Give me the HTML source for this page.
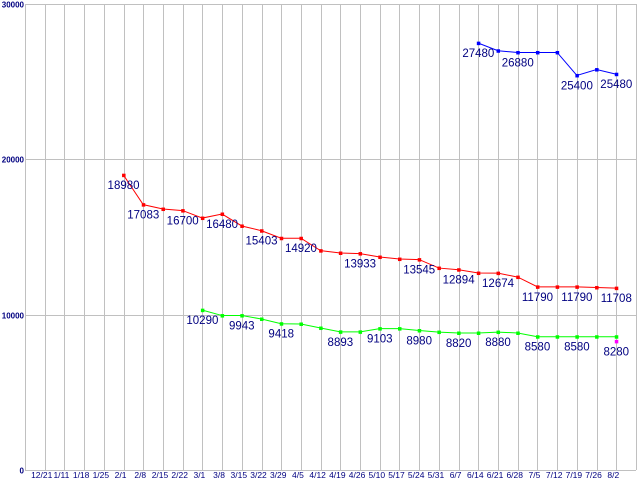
<!DOCTYPE html>
<html><head><meta charset="utf-8"><style>
html,body{margin:0;padding:0;background:#fff;width:640px;height:480px;overflow:hidden}
svg{display:block}
text{font-family:"Liberation Sans",sans-serif}
</style></head><body>
<svg id="chart" width="640" height="480" xmlns="http://www.w3.org/2000/svg"></svg>
<script>
const categories=["12/21","1/11","1/18","1/25","2/1","2/8","2/15","2/22","3/1","3/8","3/15","3/22","3/29","4/5","4/12","4/19","4/26","5/10","5/17","5/24","5/31","6/7","6/14","6/21","6/28","7/5","7/12","7/19","7/26","8/2"];
const yTicks=[0,10000,20000,30000];
const blueStart=22;
const blueValues=[27480,26990,26880,26880,26880,25400,25780,25480];
const blueLabelIdx=[22,24,27,29];
const redStart=4;
const redValues=[18980,17083,16800,16700,16220,16480,15710,15403,14920,14920,14120,13970,13933,13710,13580,13545,13000,12894,12680,12674,12420,11790,11790,11790,11750,11708];
const redLabelIdx=[4,5,7,9,11,13,16,19,21,23,25,27,29];
const greenStart=8;
const greenValues=[10290,9943,9943,9720,9418,9400,9140,8893,8893,9103,9103,8980,8880,8820,8820,8880,8820,8580,8580,8580,8580,8580];
const greenLabelIdx=[8,10,12,15,17,19,21,23,25,27];
const magentaStart=29;
const magentaValues=[8280];
const magentaLabelIdx=[29];

const NS="http://www.w3.org/2000/svg";
const svg=document.getElementById('chart');
const L=25,R=636,T=4,B=470,YMAX=30000;
const step=(R-L)/(categories.length+1);
const xPos=i=>L+step*(i+1);
const yPos=v=>B-(v/YMAX)*(B-T);
function mk(tag,attrs){const e=document.createElementNS(NS,tag);for(const k in attrs)e.setAttribute(k,attrs[k]);svg.appendChild(e);return e;}

for(let k=0;k<=categories.length+1;k++){
  const x=Math.round(L+step*k)+0.5;
  const g=mk('line',{x1:x,x2:x,y1:T,y2:B,stroke:'#c0c0c0','stroke-width':1});
  
  
}
yTicks.forEach(v=>{
  const y=Math.round(yPos(v))+0.5;
  const g=mk('line',{x1:L,x2:R,y1:y,y2:y,stroke:'#c0c0c0','stroke-width':1});
  
  
  const t=mk('text',{x:24,y:y+3,'text-anchor':'end','font-size':8,'font-weight':'bold',fill:'#000080'});
  t.textContent=String(v);
  
  
});
categories.forEach((c,i)=>{
  const t=mk('text',{x:xPos(i)-3,y:478,'text-anchor':'middle','font-size':8.5,fill:'#000080'});
  t.textContent=c;
  
  
});
function series(start,vals,labels,color,name){
  const pts=vals.map((v,j)=>[xPos(start+j),yPos(v)]);
  if(pts.length>1){
    const p=mk('polyline',{points:pts.map(p=>p.join(',')).join(' '),fill:'none',stroke:color,'stroke-width':1});
    
    
  }
  pts.forEach((p,j)=>{
    const r=mk('rect',{x:p[0]-1.5,y:p[1]-1.5,width:3.5,height:3.5,fill:color});
    
    
    if(labels.includes(start+j)){
      const t=mk('text',{x:p[0],y:p[1]+14,'text-anchor':'middle','font-size':11.5,fill:'#000080'});
      t.textContent=String(vals[j]);
      
      
    }
  });
}
series(blueStart,blueValues,blueLabelIdx,'#0000ff','blue-series');
series(redStart,redValues,redLabelIdx,'#ff0000','red-series');
series(greenStart,greenValues,greenLabelIdx,'#00ff00','green-series');
series(magentaStart,magentaValues,magentaLabelIdx,'#ff00ff','magenta-series');
</script>
</body></html>
